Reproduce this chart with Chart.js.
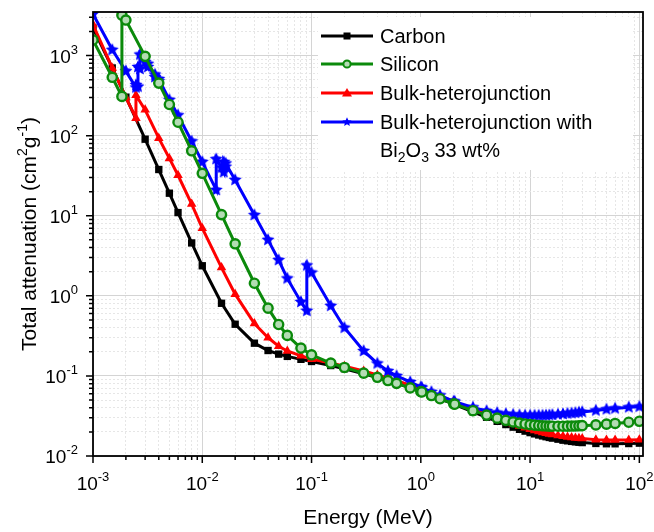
<!DOCTYPE html>
<html>
<head>
<meta charset="utf-8">
<script src="https://cdn.jsdelivr.net/npm/chart.js@4/dist/chart.umd.min.js"></script>
<style>
  html, body { margin: 0; padding: 0; background: #fff; }
  #wrap { width: 654px; height: 532px; }
</style>
</head>
<body>
<div id="wrap"><canvas id="attChart" width="654" height="532"></canvas></div>
<script>
// decades shown on each axis (tick labels are 10^n)
const xDecades = [-3, -2, -1, 0, 1, 2];
const yDecades = [-2, -1, 0, 1, 2, 3];
const minorSteps = [2, 3, 4, 5, 6, 7, 8, 9];

const seriesNames = ['Carbon', 'Silicon', 'Bulk-heterojunction', 'Bulk-heterojunction with'];

// common energy grid above 0.1 MeV (MeV)
const tailE = [0.1, 0.15, 0.2, 0.3, 0.4, 0.5, 0.6, 0.8,
  1, 1.022, 1.25, 1.5, 2, 2.044,
  3, 4, 5, 6, 7, 8, 9, 10,
  11, 12, 13, 14, 15, 16,
  18, 20, 22, 24, 26, 28, 30,
  40, 50, 60, 80, 100];

// Carbon
const carbonLowE = [0.001, 0.0015, 0.002, 0.003, 0.004, 0.005, 0.006, 0.008, 0.01, 0.015, 0.02, 0.03, 0.04, 0.05, 0.06, 0.08];
const carbonLow = [2211, 700.2, 302.6, 90.33, 37.78, 19.12, 10.95, 4.576, 2.373, 0.8071, 0.442, 0.2562, 0.2076, 0.1871, 0.1753, 0.161];
const carbonTail = [0.1514, 0.1347, 0.1229, 0.1066, 0.09546, 0.08715, 0.08058, 0.07076,
  0.06361, 0.06293, 0.0569, 0.05179, 0.04442, 0.04389,
  0.03562, 0.03047, 0.02708, 0.02469, 0.02292, 0.02154, 0.02045, 0.01959,
  0.01889, 0.0183, 0.01782, 0.01741, 0.01705, 0.01673,
  0.01622, 0.01575, 0.01547, 0.01522, 0.01502, 0.01485, 0.01471,
  0.01434, 0.01422, 0.0142, 0.0143, 0.01447];

// Silicon
const siliconLowE = [0.001, 0.0015, 0.0018389, 0.0018389, 0.002, 0.003, 0.004, 0.005, 0.006, 0.008, 0.01, 0.015, 0.02, 0.03, 0.04, 0.05, 0.06, 0.08];
const siliconLow = [1570, 535.5, 309.2, 3192, 2777, 978.4, 452.9, 245.0, 147.0, 64.68, 33.89, 10.34, 4.464, 1.436, 0.7012, 0.4385, 0.3207, 0.2228];
const siliconTail = [0.1835, 0.1448, 0.1275, 0.1082, 0.09614, 0.08748, 0.08077, 0.07082,
  0.06361, 0.06293, 0.05688, 0.05183, 0.0448, 0.04428,
  0.03678, 0.0324, 0.02967, 0.02788, 0.02663, 0.02574, 0.02509, 0.02462,
  0.02427, 0.02402, 0.02384, 0.02371, 0.02362, 0.02356,
  0.02352, 0.02354, 0.02359, 0.02366, 0.02374, 0.02383, 0.02392,
  0.02446, 0.025, 0.02551, 0.0264, 0.02714];

// Bulk-heterojunction
const bhjLowE = [0.001, 0.0015, 0.002, 0.002472, 0.002472, 0.003, 0.004, 0.005, 0.006, 0.008, 0.01, 0.015, 0.02, 0.03, 0.04, 0.05, 0.06, 0.08];
const bhjLow = [2440, 700, 300, 165, 320, 210, 93, 52, 32, 14, 7.0, 2.25, 1.05, 0.45, 0.30, 0.235, 0.205, 0.178];
const bhjTail = [0.162, 0.145, 0.132, 0.115, 0.103, 0.0942, 0.0871, 0.0765,
  0.0688, 0.068, 0.0615, 0.056, 0.0481, 0.0475,
  0.0387, 0.0332, 0.0296, 0.0271, 0.0252, 0.0237, 0.0225, 0.0216,
  0.0208, 0.0202, 0.0197, 0.0192, 0.0188, 0.0185,
  0.018, 0.0176, 0.0173, 0.017, 0.0168, 0.0166, 0.0165,
  0.016, 0.0158, 0.0158, 0.0158, 0.016];

// Bulk-heterojunction with Bi2O3 33 wt%
const bhjBiLowE = [0.001, 0.0015, 0.002, 0.002472, 0.002472, 0.00258, 0.00258, 0.002688, 0.002688, 0.003,
  0.003177, 0.003177, 0.003696, 0.003696, 0.003999, 0.003999, 0.005, 0.006, 0.008, 0.01,
  0.01342, 0.01342, 0.015, 0.01571, 0.01571, 0.01639, 0.01639, 0.02, 0.03, 0.04,
  0.05, 0.06, 0.08, 0.09053, 0.09053];
const bhjBiLow = [3300, 1180, 640, 400, 430, 410, 720, 680, 1030, 830,
  720, 790, 540, 580, 480, 510, 280, 180, 85, 47,
  21, 51, 40, 35, 47, 41, 45, 28, 10.2, 5.0,
  2.8, 1.65, 0.84, 0.65, 2.4];
const bhjBiTail = [1.95, 0.75, 0.40, 0.205, 0.143, 0.115, 0.100, 0.084,
  0.0725, 0.0715, 0.0632, 0.0572, 0.0482, 0.0476,
  0.0405, 0.0365, 0.0347, 0.0336, 0.0329, 0.0324, 0.0322, 0.0321,
  0.0321, 0.0321, 0.0322, 0.0323, 0.0325, 0.0327,
  0.0331, 0.0335, 0.0339, 0.0343, 0.0347, 0.0351, 0.0355,
  0.037, 0.0383, 0.0393, 0.0406, 0.0413];

const FONT = '"Liberation Sans", Arial, Helvetica, sans-serif';

function toPoints(lowE, low, tail) {
  const pts = lowE.map((e, i) => ({ x: e, y: low[i] }));
  tailE.forEach((e, i) => pts.push({ x: e, y: tail[i] }));
  return pts;
}

// filled five point star used as marker
function starImage(r, color) {
  const s = Math.ceil(r * 2 + 2);
  const c = document.createElement('canvas');
  c.width = s; c.height = s;
  const g = c.getContext('2d');
  g.fillStyle = color;
  g.beginPath();
  for (let i = 0; i < 10; i++) {
    const a = -Math.PI / 2 + i * Math.PI / 5;
    const rr = i % 2 ? r * 0.48 : r;
    g.lineTo(s / 2 + rr * Math.cos(a), s / 2 + rr * Math.sin(a));
  }
  g.closePath();
  g.fill();
  return c;
}

const GREEN = '#0b8a0b';
const GREEN_FILL = '#b4dcb4';
const bigStar = starImage(6.8, '#0000ff');
const smallStar = starImage(4.8, '#0000ff');

function logTicks(decades, min, max) {
  const out = [];
  decades.forEach(d => {
    const base = Math.pow(10, d);
    if (base >= min * 0.999 && base <= max * 1.001) out.push({ value: base, major: true });
    minorSteps.forEach(m => {
      const v = m * base;
      if (v > min && v < max) out.push({ value: v, major: false });
    });
  });
  return out.sort((a, b) => a.value - b.value);
}

const gridOpts = {
  color: c => (c.tick && c.tick.major) ? '#d4d4d4' : '#e6e6e6',
  lineWidth: 1,
  drawTicks: false
};
const borderOpts = {
  display: false,
  dash: c => (c.tick && c.tick.major) ? [] : [2, 2]
};

// superscript power-of-ten label
function drawPow(ctx, x, y, exp, align) {
  const base = '10', sup = String(exp);
  ctx.font = '19px ' + FONT;
  const wb = ctx.measureText(base).width;
  ctx.font = '13px ' + FONT;
  const ws = ctx.measureText(sup).width;
  const total = wb + ws;
  const x0 = align === 'center' ? x - total / 2 : x - total;
  ctx.textAlign = 'left';
  ctx.textBaseline = 'alphabetic';
  ctx.font = '19px ' + FONT;
  ctx.fillText(base, x0, y);
  ctx.font = '13px ' + FONT;
  ctx.fillText(sup, x0 + wb, y - 9);
}

// write text pieces, some of them raised or lowered
function drawRich(ctx, parts, x, y, align) {
  let total = 0;
  parts.forEach(p => { ctx.font = p.size + 'px ' + FONT; total += ctx.measureText(p.t).width; });
  let cx = align === 'center' ? x - total / 2 : x;
  ctx.textAlign = 'left';
  ctx.textBaseline = 'alphabetic';
  parts.forEach(p => {
    ctx.font = p.size + 'px ' + FONT;
    ctx.fillText(p.t, cx, y + (p.dy || 0));
    cx += ctx.measureText(p.t).width;
  });
}

function legendMarker(ctx, kind, x, y) {
  ctx.save();
  if (kind === 0) {
    ctx.fillStyle = '#000';
    ctx.fillRect(x - 3.5, y - 3.5, 7, 7);
  } else if (kind === 1) {
    ctx.beginPath();
    ctx.arc(x, y, 3.6, 0, Math.PI * 2);
    ctx.fillStyle = GREEN_FILL;
    ctx.fill();
    ctx.lineWidth = 2;
    ctx.strokeStyle = GREEN;
    ctx.stroke();
  } else if (kind === 2) {
    ctx.beginPath();
    ctx.moveTo(x, y - 5);
    ctx.lineTo(x + 5, y + 3.5);
    ctx.lineTo(x - 5, y + 3.5);
    ctx.closePath();
    ctx.fillStyle = '#ff0000';
    ctx.fill();
  } else {
    ctx.drawImage(smallStar, x - smallStar.width / 2, y - smallStar.height / 2);
  }
  ctx.restore();
}

const axisPlugin = {
  id: 'axisPlugin',
  beforeDatasetsDraw(chart) {
    // white box behind the legend
    const ctx = chart.ctx;
    ctx.save();
    ctx.fillStyle = '#fff';
    ctx.fillRect(318, 17, 315, 153);
    ctx.restore();
  },
  afterDraw(chart) {
    const ctx = chart.ctx;
    const a = chart.chartArea;
    const xs = chart.scales.x, ys = chart.scales.y;
    ctx.save();
    // frame
    ctx.strokeStyle = '#000';
    ctx.lineWidth = 1.8;
    ctx.strokeRect(a.left, a.top, a.right - a.left, a.bottom - a.top);
    // ticks
    ctx.lineWidth = 1.5;
    ctx.beginPath();
    xs.ticks.forEach(t => {
      const px = xs.getPixelForValue(t.value);
      const len = t.major ? 7 : 4;
      ctx.moveTo(px, a.bottom);
      ctx.lineTo(px, a.bottom + len);
    });
    ys.ticks.forEach(t => {
      const py = ys.getPixelForValue(t.value);
      const len = t.major ? 7 : 4;
      ctx.moveTo(a.left, py);
      ctx.lineTo(a.left - len, py);
    });
    ctx.stroke();
    // tick labels
    ctx.fillStyle = '#000';
    xDecades.forEach(d => {
      drawPow(ctx, xs.getPixelForValue(Math.pow(10, d)), a.bottom + 34, d, 'center');
    });
    yDecades.forEach(d => {
      drawPow(ctx, a.left - 15, ys.getPixelForValue(Math.pow(10, d)) + 7, d, 'right');
    });
    // axis titles
    drawRich(ctx, [{ t: 'Energy (MeV)', size: 21 }], (a.left + a.right) / 2, 524, 'center');
    ctx.save();
    ctx.translate(36, (a.top + a.bottom) / 2);
    ctx.rotate(-Math.PI / 2);
    drawRich(ctx, [
      { t: 'Total attenuation (cm', size: 21 },
      { t: '2', size: 14, dy: -9 },
      { t: 'g', size: 21 },
      { t: '-1', size: 14, dy: -9 },
      { t: ')', size: 21 }
    ], 0, 0, 'center');
    ctx.restore();
    // legend
    const rows = [36, 64, 93, 122];
    const colors = ['#000', GREEN, '#ff0000', '#0000ff'];
    rows.forEach((ry, i) => {
      ctx.strokeStyle = colors[i];
      ctx.lineWidth = 2.8;
      ctx.beginPath();
      ctx.moveTo(321, ry);
      ctx.lineTo(373, ry);
      ctx.stroke();
      legendMarker(ctx, i, 347, ry);
      ctx.fillStyle = '#000';
      drawRich(ctx, [{ t: seriesNames[i], size: 20 }], 380, ry + 7, 'left');
    });
    drawRich(ctx, [
      { t: 'Bi', size: 20 },
      { t: '2', size: 14, dy: 5 },
      { t: 'O', size: 20 },
      { t: '3', size: 14, dy: 5 },
      { t: ' 33 wt%', size: 20 }
    ], 380, 157, 'left');
    ctx.restore();
  }
};

const ctx = document.getElementById('attChart').getContext('2d');
new Chart(ctx, {
  type: 'scatter',
  data: {
    datasets: [
      {
        label: seriesNames[1],
        data: toPoints(siliconLowE, siliconLow, siliconTail),
        showLine: true, borderColor: GREEN, borderWidth: 3,
        pointStyle: 'circle', pointRadius: 4.6, pointBorderWidth: 2.4,
        pointBackgroundColor: GREEN_FILL, pointBorderColor: GREEN,
        order: 0
      },
      {
        label: seriesNames[3],
        data: toPoints(bhjBiLowE, bhjBiLow, bhjBiTail),
        showLine: true, borderColor: '#0000ff', borderWidth: 3,
        pointStyle: bigStar, pointRadius: 6,
        order: 1
      },
      {
        label: seriesNames[2],
        data: toPoints(bhjLowE, bhjLow, bhjTail),
        showLine: true, borderColor: '#ff0000', borderWidth: 3,
        pointStyle: 'triangle', pointRadius: 5.5, pointBorderWidth: 0,
        pointBackgroundColor: '#ff0000', pointBorderColor: '#ff0000',
        order: 2
      },
      {
        label: seriesNames[0],
        data: toPoints(carbonLowE, carbonLow, carbonTail),
        showLine: true, borderColor: '#000000', borderWidth: 3,
        pointStyle: 'rect', pointRadius: 5.2, pointBorderWidth: 0,
        pointBackgroundColor: '#000000', pointBorderColor: '#000000',
        order: 3
      }
    ]
  },
  options: {
    responsive: false,
    animation: false,
    devicePixelRatio: 1,
    layout: { padding: { left: 0, top: 12, right: 11, bottom: 0 } },
    plugins: { legend: { display: false }, tooltip: { enabled: false } },
    elements: { line: { tension: 0 } },
    scales: {
      x: {
        type: 'logarithmic', min: 1e-3, max: 108,
        ticks: { display: false },
        grid: gridOpts, border: borderOpts,
        afterBuildTicks: s => { s.ticks = logTicks(xDecades, s.min, s.max); },
        afterFit: s => { s.height = 76; }
      },
      y: {
        type: 'logarithmic', min: 0.01, max: 3500,
        ticks: { display: false },
        grid: gridOpts, border: borderOpts,
        afterBuildTicks: s => { s.ticks = logTicks(yDecades, s.min, s.max); },
        afterFit: s => { s.width = 93; }
      }
    }
  },
  plugins: [axisPlugin]
});
</script>
</body>
</html>
